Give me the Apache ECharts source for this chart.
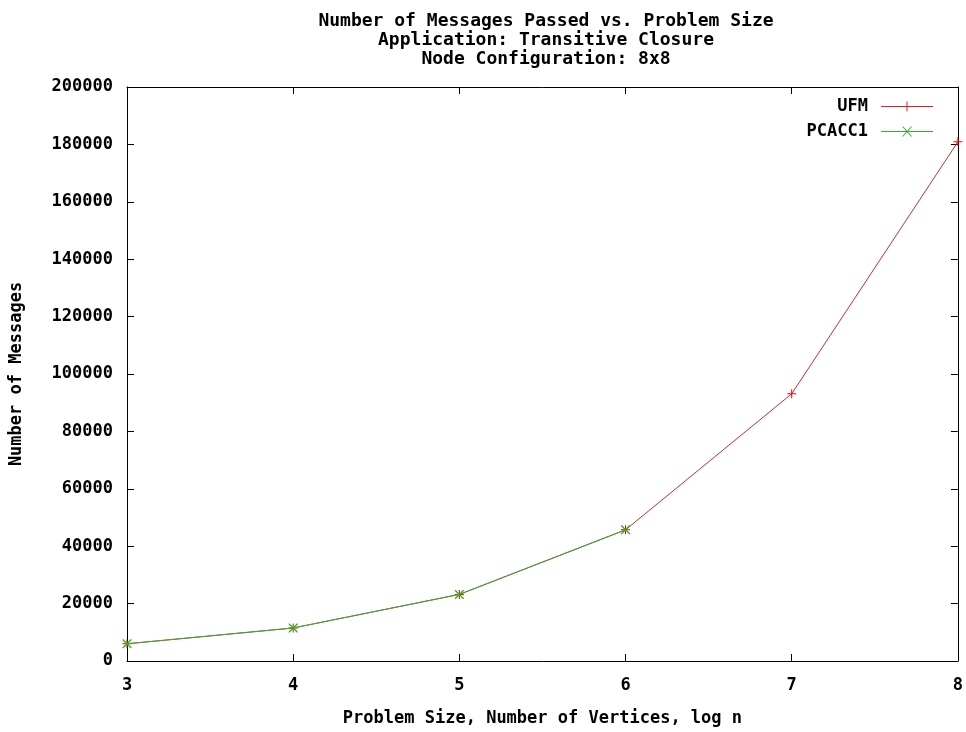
<!DOCTYPE html>
<html>
<head>
<meta charset="utf-8">
<script src="https://cdn.jsdelivr.net/npm/echarts@6/dist/echarts.min.js"></script>
<style>
html,body{margin:0;padding:0;background:#fff;}
#chart{width:966px;height:732px;}
</style>
</head>
<body>
<div id="chart"></div>
<script>
const problemSizes = [3, 4, 5, 6, 7, 8];
const ufmMessages = [6000, 11500, 23200, 45700, 93100, 180900];
const pcacc1Sizes = [3, 4, 5, 6];
const pcacc1Messages = [6000, 11500, 23200, 45700];
const titleLines = ['Number of Messages Passed vs. Problem Size', 'Application: Transitive Closure', 'Node Configuration: 8x8'];

const FONT = '"DejaVu Sans Mono", "Liberation Mono", monospace';
const plusPath = 'path://M0,4h9v1h-9z M4,0h1v9h-1z';
const xPath = 'path://M0,0L1,0L9,8L9,9L8,9L0,1Z M8,0L9,0L9,1L1,9L0,9L0,8Z';
const plusLegend = 'path://M0,4.5h52v1h-52z M25.5,0h1v10h-1z';
const xLegend = 'path://M0,4.5h52v1h-52z M21,0h1.2l9,10h-1.2z M30,0h1.2l-9,10h-1.2z';

const chart = echarts.init(document.getElementById('chart'), null, {renderer: 'canvas'});
const tickStyle = {inside: true, length: 7, lineStyle: {color: '#000', width: 1}};
const lineStyle = {color: '#000', width: 1};
chart.setOption({
  animation: false,
  backgroundColor: '#fff',
  title: {
    text: titleLines.join('\n'),
    left: 541, top: 7, textAlign: 'center',
    textStyle: {fontFamily: FONT, fontSize: 18, fontWeight: 'bold', color: '#000', lineHeight: 19}
  },
  legend: {
    orient: 'vertical', right: 28, top: 93, align: 'right',
    itemWidth: 52, itemHeight: 10, itemGap: 8,
    textStyle: {fontFamily: FONT, fontSize: 17, fontWeight: 'bold', color: '#000', padding: [0, 8, 0, 0]},
    data: [
      {name: 'UFM', icon: plusLegend, itemStyle: {color: '#e02020'}},
      {name: 'PCACC1', icon: xLegend, itemStyle: {color: '#30b030'}}
    ]
  },
  grid: {left: 125, right: 8, top: 87, bottom: 63, containLabel: false},
  xAxis: [{
    type: 'value', min: 3, max: 8, interval: 1,
    name: 'Problem Size, Number of Vertices, log n', nameLocation: 'middle', nameGap: 49,
    nameTextStyle: {fontFamily: FONT, fontSize: 17, fontWeight: 'bold', color: '#000'},
    axisLine: {show: true, lineStyle: lineStyle, onZero: false},
    axisTick: tickStyle,
    axisLabel: {fontFamily: FONT, fontSize: 17, fontWeight: 'bold', color: '#000', margin: 16, formatter: v => String(v)},
    splitLine: {show: false}
  }, {
    type: 'value', min: 3, max: 8, interval: 1, position: 'top',
    axisLine: {show: true, lineStyle: lineStyle, onZero: false},
    axisTick: tickStyle, axisLabel: {show: false}, splitLine: {show: false}
  }],
  yAxis: [{
    type: 'value', min: 0, max: 200000, interval: 20000,
    name: 'Number of Messages', nameLocation: 'middle', nameGap: 102, nameRotate: 90,
    nameTextStyle: {fontFamily: FONT, fontSize: 17, fontWeight: 'bold', color: '#000'},
    axisLine: {show: true, lineStyle: lineStyle, onZero: false},
    axisTick: tickStyle,
    axisLabel: {fontFamily: FONT, fontSize: 17, fontWeight: 'bold', color: '#000', margin: 14, formatter: v => String(v)},
    splitLine: {show: false}
  }, {
    type: 'value', min: 0, max: 200000, interval: 20000, position: 'right',
    axisLine: {show: true, lineStyle: lineStyle, onZero: false},
    axisTick: tickStyle, axisLabel: {show: false}, splitLine: {show: false}
  }],
  series: [{
    name: 'UFM', type: 'line',
    data: problemSizes.map((x, i) => [x, ufmMessages[i]]),
    symbol: plusPath, symbolSize: 9, showAllSymbol: true,
    lineStyle: {color: '#c83030', width: 1},
    itemStyle: {color: '#ff0000'},
    z: 2
  }, {
    name: 'PCACC1', type: 'line',
    data: pcacc1Sizes.map((x, i) => [x, pcacc1Messages[i]]),
    symbol: xPath, symbolSize: 9, showAllSymbol: true,
    lineStyle: {color: '#30b030', width: 1},
    itemStyle: {color: '#30b030'},
    z: 3
  }]
});
</script>
</body>
</html>
